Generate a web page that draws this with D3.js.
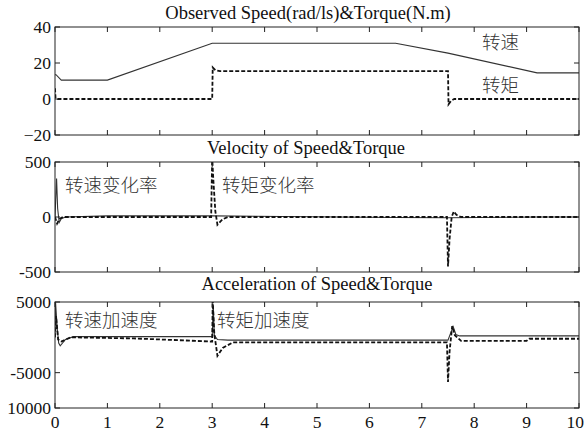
<!DOCTYPE html>
<html>
<head>
<meta charset="utf-8">
<script src="https://cdn.jsdelivr.net/npm/d3@7"></script>
<style>
  body { margin: 0; background: #fff; }
  svg { display: block; }
  .tick-label { font-family: "Liberation Serif", "Times New Roman", serif; font-size: 17.5px; fill: #111; }
  .title { font-family: "Liberation Serif", "Times New Roman", serif; font-size: 18.5px; fill: #111; }
  .cn { font-family: "Noto Sans CJK SC", sans-serif; font-size: 18.5px; font-weight: 300; fill: #333; }
</style>
</head>
<body>
<div id="chart"></div>
<script>
// speed / torque (top panel)
var speedT = [0, 0.02, 0.12, 1, 3, 6.5, 7.5, 9.2, 10];
var speedV = [13.5, 13.5, 10.5, 10.5, 31, 31, 25.5, 14.5, 14.5];
var torqueT = [0, 0.01, 0.05, 3, 3.01, 3.06, 3.15, 7.5, 7.51, 7.56, 7.62, 10];
var torqueV = [6, 0.5, 0, 0, 17.5, 16, 15.5, 15.5, -3, -1, 0, 0];

// rate of change (middle panel)
var speedRateT = [0, 0.03, 0.05, 0.08, 0.12, 0.2, 1, 3, 6.5, 7.5, 9.2, 10];
var speedRateV = [0, 350, 80, -50, -15, 0, 10, 10, -4.5, -6.8, 0, 0];
var torqueRateT = [0, 0.04, 0.08, 0.15, 2.98, 3.0, 3.02, 3.06, 3.1, 3.2, 3.3, 7.48, 7.5, 7.53, 7.57, 7.61, 7.66, 7.75, 10];
var torqueRateV = [0, -60, -20, 0, 0, 540, 350, 50, -70, -20, 0, 0, -450, -200, 0, 50, 20, 0, 0];

// acceleration (bottom panel)
var speedAccT = [0, 0.01, 0.04, 0.07, 0.1, 0.2, 0.35, 3, 3.02, 3.04, 3.1, 3.3, 7.5, 7.55, 7.6, 7.65, 7.72, 10];
var speedAccV = [0, 5000, 1500, -800, -1200, -300, 100, 100, 4500, 300, -300, -400, -400, 600, 1500, 400, 200, 200];
var torqueAccT = [0, 0.02, 0.06, 0.12, 0.3, 1.5, 3, 3.01, 3.04, 3.1, 3.2, 3.4, 7.48, 7.5, 7.53, 7.58, 7.63, 7.75, 9, 9.05, 10];
var torqueAccV = [0, 3000, -300, -600, 0, -150, -600, 5200, 500, -2600, -1500, -700, -700, -6300, -2000, 1600, 300, -500, -500, -200, -200];

var xTicks = [0, 1, 2, 3, 4, 5, 6, 7, 8, 9, 10];

var W = 585, H = 435;
var svg = d3.select('#chart').append('svg').attr('width', W).attr('height', H);

var x = d3.scaleLinear().domain([0, 10]).range([55, 579]);

var panels = [
  { title: 'Observed Speed(rad/ls)&Torque(N.m)', tx: 308, ty: 19,
    domain: [-20, 40], range: [135, 27],
    ticks: [40, 20, 0, -20], labels: ['40', '20', '0', '\u221220'],
    solid: [speedT, speedV], dashed: [torqueT, torqueV],
    notes: [{ t: '转速', x: 482, y: 49 }, { t: '转矩', x: 482, y: 92 }] },
  { title: 'Velocity of Speed&Torque', tx: 306, ty: 154,
    domain: [-500, 500], range: [272, 162],
    ticks: [500, 0, -500], labels: ['500', '0', '-500'],
    solid: [speedRateT, speedRateV], dashed: [torqueRateT, torqueRateV],
    notes: [{ t: '转速变化率', x: 65, y: 192 }, { t: '转矩变化率', x: 222, y: 192 }] },
  { title: 'Acceleration of Speed&Torque', tx: 317, ty: 290,
    domain: [-10000, 5000], range: [408, 302],
    ticks: [5000, -5000, -10000], labels: ['5000', '-5000', '10000'],
    solid: [speedAccT, speedAccV], dashed: [torqueAccT, torqueAccV],
    notes: [{ t: '转速加速度', x: 65, y: 327 }, { t: '转矩加速度', x: 217, y: 327 }] }
];

panels.forEach(function (p, i) {
  var y = d3.scaleLinear().domain(p.domain).range(p.range);
  var g = svg.append('g');
  var top = p.range[1], bottom = p.range[0];

  svg.append('text').attr('class', 'title')
    .attr('x', p.tx).attr('y', p.ty)
    .attr('text-anchor', 'middle').text(p.title);

  var clipId = 'clip' + i;
  svg.append('clipPath').attr('id', clipId)
    .append('rect').attr('x', 55).attr('y', top)
    .attr('width', 524).attr('height', bottom - top);

  var line = d3.line()
    .x(function (d) { return x(d[0]); })
    .y(function (d) { return y(d[1]); });

  var toPts = function (s) { return s[0].map(function (t, k) { return [t, s[1][k]]; }); };

  var plot = g.append('g').attr('clip-path', 'url(#' + clipId + ')');
  plot.append('path').datum(toPts(p.solid))
    .attr('d', line).attr('fill', 'none')
    .attr('stroke', '#333').attr('stroke-width', 1.1);
  plot.append('path').datum(toPts(p.dashed))
    .attr('d', line).attr('fill', 'none')
    .attr('stroke', '#111').attr('stroke-width', 1.8)
    .attr('stroke-dasharray', '4,2');

  // box frame
  g.append('rect').attr('x', 55).attr('y', top)
    .attr('width', 524).attr('height', bottom - top)
    .attr('fill', 'none').attr('stroke', '#222').attr('stroke-width', 1);

  // inward ticks on all four sides
  var tl = 5;
  xTicks.forEach(function (t) {
    g.append('line').attr('x1', x(t)).attr('x2', x(t)).attr('y1', bottom).attr('y2', bottom - tl)
      .attr('stroke', '#222');
    g.append('line').attr('x1', x(t)).attr('x2', x(t)).attr('y1', top).attr('y2', top + tl)
      .attr('stroke', '#222');
  });
  p.ticks.forEach(function (t, k) {
    g.append('line').attr('x1', 55).attr('x2', 55 + tl).attr('y1', y(t)).attr('y2', y(t))
      .attr('stroke', '#222');
    g.append('line').attr('x1', 579).attr('x2', 579 - tl).attr('y1', y(t)).attr('y2', y(t))
      .attr('stroke', '#222');
    g.append('text').attr('class', 'tick-label')
      .attr('x', 51).attr('y', y(t)).attr('dy', '0.35em')
      .attr('text-anchor', 'end').text(p.labels[k]);
  });

  p.notes.forEach(function (n) {
    svg.append('text').attr('class', 'cn').attr('x', n.x).attr('y', n.y).text(n.t);
  });

  if (i === panels.length - 1) {
    xTicks.forEach(function (t, k) {
      var last = k === xTicks.length - 1;
      svg.append('text').attr('class', 'tick-label')
        .attr('x', last ? 584 : x(t)).attr('y', 428)
        .attr('text-anchor', last ? 'end' : 'middle').text(t);
    });
  }
});
</script>
</body>
</html>
